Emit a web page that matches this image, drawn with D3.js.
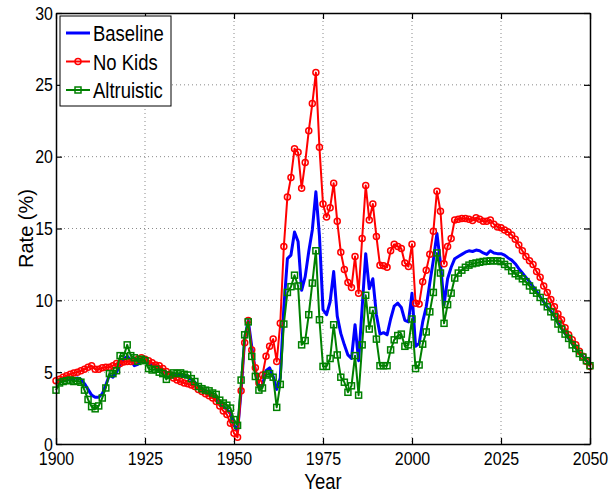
<!DOCTYPE html>
<html>
<head>
<meta charset="utf-8">
<script src="https://cdn.jsdelivr.net/npm/d3@7.9.0/dist/d3.min.js"></script>
<style>
  body { margin: 0; background: #fff; }
  svg { display: block; font-family: "Liberation Sans", Arial, sans-serif; }
</style>
</head>
<body>
<svg id="chart" width="609" height="494"></svg>
<script>
// yearly values, 1900..2050
const firstYear = 1900;
const lastYear = 2050;

const baseline = [
  4.2, 4.3, 4.4, 4.45, 4.5, 4.55, 4.6, 4.5, 4.2, 3.8,
  3.4, 3.25, 3.25, 3.5, 4.1, 4.8, 4.65, 5.0, 5.5, 5.9,
  6.1, 5.85, 5.45, 5.55, 5.8, 5.75, 5.6, 5.5, 5.35, 5.25,
  5.15, 5.0, 4.95, 4.9, 4.85, 4.8, 4.75, 4.65, 4.5, 4.3,
  4.05, 3.85, 3.7, 3.55, 3.4, 3.2, 2.9, 2.6, 2.4, 2.1,
  1.3, 0.9, 3.7, 7.35, 8.6, 6.75, 5.1, 4.0, 4.1, 5.1,
  5.3, 4.7, 3.8, 4.6, 9.5, 12.9, 13.15, 14.75, 14.1, 10.7,
  11.65, 13.4, 14.9, 17.55, 14.5, 9.35, 9.0, 9.9, 12.0, 8.9,
  7.7, 6.9, 6.2, 5.95, 8.3, 5.8, 9.5, 13.25, 10.8, 11.5,
  9.0, 7.65, 7.75, 7.6, 8.7, 9.6, 9.8, 9.5, 8.6, 8.5,
  10.5, 6.8, 7.0, 8.5, 9.55, 11.2, 12.8, 14.65, 12.6, 9.7,
  11.5, 12.3, 12.9, 13.05, 13.2, 13.35, 13.45, 13.4, 13.5, 13.45,
  13.3, 13.2, 13.45, 13.3, 13.25, 13.25, 13.15, 12.95, 12.8, 12.55,
  12.2, 11.9, 11.6, 11.3, 10.95, 10.6, 10.25, 9.9, 9.55, 9.25,
  8.9, 8.45, 8.05, 7.7, 7.35, 7.0, 6.7, 6.35, 6.1, 5.8,
  5.45
];

const noKids = [
  4.4, 4.5, 4.65, 4.75, 4.85, 4.95, 5.0, 5.1, 5.2, 5.35,
  5.45, 5.2, 5.2, 5.3, 5.35, 5.35, 5.45, 5.6, 5.6, 5.7,
  5.75, 5.75, 5.8, 5.9, 6.0, 5.9, 5.8, 5.65, 5.5, 5.45,
  5.25, 5.05, 4.8, 4.6, 4.45, 4.35, 4.25, 4.2, 4.1, 4.0,
  3.8, 3.65, 3.5, 3.35, 3.2, 2.95, 2.65, 2.3, 2.05, 1.45,
  0.75, 0.47, 3.7, 7.05, 8.6, 6.55, 5.3, 4.25, 4.8, 6.1,
  6.8, 7.3, 5.75, 8.4, 13.75, 17.2, 18.55, 20.55, 20.3, 17.8,
  19.6, 21.8, 23.7, 25.85, 20.65, 16.7, 15.8, 16.45, 18.15, 15.5,
  13.35, 12.15, 11.25, 10.9, 13.05, 10.5, 14.3, 18.0, 15.6, 16.7,
  14.45, 12.45, 12.4, 12.3, 13.45, 13.9, 13.75, 13.6, 12.6, 12.35,
  13.9, 9.8, 9.75, 11.3, 12.1, 13.2, 14.8, 17.6, 16.2, 12.55,
  13.75, 14.3, 15.6, 15.65, 15.7, 15.7, 15.65, 15.55, 15.75, 15.65,
  15.5, 15.5, 15.6, 15.3, 15.1, 15.05, 14.9, 14.75, 14.55, 14.25,
  13.85, 13.45, 13.05, 12.75, 12.5, 12.0, 11.6, 11.0, 10.55, 10.05,
  9.55, 9.05, 8.65, 8.1, 7.6, 7.25, 6.9, 6.45, 6.1, 5.75,
  5.4
];

const altruistic = [
  3.75, 4.25, 4.35, 4.4, 4.45, 4.35, 4.4, 4.3, 3.75, 3.1,
  2.6, 2.45, 2.65, 3.2, 3.9, 4.9, 4.9, 5.1, 6.15, 6.1,
  6.9, 6.15, 6.0, 5.75, 5.9, 5.8, 5.25, 5.15, 5.2, 5.0,
  4.9, 4.5, 4.8, 4.95, 4.9, 4.95, 4.85, 4.8, 4.55, 4.35,
  4.0, 3.85, 3.75, 3.7, 3.55, 3.45, 3.05, 2.85, 2.7, 2.5,
  1.7, 1.3, 4.45, 7.6, 8.5, 6.1, 4.7, 3.75, 3.9, 4.8,
  4.9, 4.65, 2.55, 4.15, 8.35, 10.55, 10.95, 11.75, 11.0, 6.9,
  7.2, 9.0, 11.2, 13.45, 8.65, 5.4, 5.4, 5.95, 8.3, 6.2,
  4.65, 4.3, 3.6, 4.05, 6.15, 3.4, 6.9, 10.35, 8.0, 9.3,
  7.3, 5.45, 5.45, 5.45, 6.55, 7.25, 7.55, 7.65, 6.8, 6.9,
  8.7, 5.25, 5.5, 6.95, 7.8, 9.2, 10.55, 13.3, 11.9, 8.4,
  9.7, 10.5, 11.55, 11.9, 12.1, 12.3, 12.45, 12.55, 12.6, 12.65,
  12.7, 12.72, 12.75, 12.75, 12.75, 12.7, 12.5, 12.35, 12.05, 11.85,
  11.7, 11.5, 11.3, 11.0, 10.7, 10.5, 10.2, 9.9, 9.55, 9.2,
  8.85, 8.35, 8.0, 7.65, 7.35, 6.9, 6.65, 6.3, 6.05, 5.8,
  5.45
];

const xTicks = [1900, 1925, 1950, 1975, 2000, 2025, 2050];
const yTicks = [0, 5, 10, 15, 20, 25, 30];
const seriesNames = ['Baseline', 'No Kids', 'Altruistic'];

const years = d3.range(firstYear, lastYear + 1);
const width = 609, height = 494;
const margin = { top: 13, right: 19, bottom: 50, left: 56 };
const squeeze = 0.84; // the reference text is a bit narrow

const svg = d3.select('#chart');

const x = d3.scaleLinear().domain([firstYear, lastYear]).range([margin.left, width - margin.right]);
const y = d3.scaleLinear().domain([0, 30]).range([height - margin.bottom, margin.top]);

// dotted grid
const grid = svg.append('g').attr('stroke', '#8a8a8a').attr('stroke-width', 1).attr('stroke-dasharray', '1,3');
grid.selectAll('.gx')
  .data(xTicks.slice(1, -1))
  .enter().append('line')
  .attr('x1', d => x(d)).attr('x2', d => x(d))
  .attr('y1', y(30)).attr('y2', y(0));
grid.selectAll('.gy')
  .data(yTicks.slice(1, -1))
  .enter().append('line')
  .attr('x1', x(firstYear)).attr('x2', x(lastYear))
  .attr('y1', d => y(d)).attr('y2', d => y(d));

// series
const series = [
  { name: seriesNames[0], values: baseline, color: '#0000ff', width: 3, marker: null },
  { name: seriesNames[1], values: noKids, color: '#ff0000', width: 2, marker: 'circle' },
  { name: seriesNames[2], values: altruistic, color: '#008000', width: 2, marker: 'square' }
];

const markR = 3;      // circle radius
const markS = 6;      // square side

const line = d3.line().x(d => x(d[0])).y(d => y(d[1]));

series.forEach(s => {
  const pts = years.map((yr, i) => [yr, s.values[i]]);
  const g = svg.append('g');
  g.append('path')
    .attr('d', line(pts))
    .attr('fill', 'none')
    .attr('stroke', s.color)
    .attr('stroke-width', s.width)
    .attr('stroke-linejoin', 'round');
  if (s.marker === 'circle') {
    g.selectAll('circle')
      .data(pts)
      .enter().append('circle')
      .attr('cx', d => x(d[0]))
      .attr('cy', d => y(d[1]))
      .attr('r', markR)
      .attr('fill', 'none')
      .attr('stroke', s.color)
      .attr('stroke-width', 1.5);
  } else if (s.marker === 'square') {
    g.selectAll('rect')
      .data(pts)
      .enter().append('rect')
      .attr('x', d => x(d[0]) - markS / 2)
      .attr('y', d => y(d[1]) - markS / 2)
      .attr('width', markS)
      .attr('height', markS)
      .attr('fill', 'none')
      .attr('stroke', s.color)
      .attr('stroke-width', 1.5);
  }
});

// axes, ticks inside like the original
const xAxis = svg.append('g')
  .attr('transform', `translate(0,${y(0)})`)
  .call(d3.axisBottom(x).tickValues(xTicks).tickFormat(d3.format('d')).tickSizeInner(-6).tickSizeOuter(0).tickPadding(8));
const yAxis = svg.append('g')
  .attr('transform', `translate(${x(firstYear)},0)`)
  .call(d3.axisLeft(y).tickValues(yTicks).tickSizeInner(-6).tickSizeOuter(0).tickPadding(9));
svg.append('g')
  .attr('transform', `translate(0,${y(30)})`)
  .call(d3.axisTop(x).tickValues(xTicks).tickFormat('').tickSizeInner(-6).tickSizeOuter(0));
svg.append('g')
  .attr('transform', `translate(${x(lastYear)},0)`)
  .call(d3.axisRight(y).tickValues(yTicks).tickFormat('').tickSizeInner(-6).tickSizeOuter(0));

svg.selectAll('.domain').attr('stroke', '#000').attr('stroke-width', 1.5);
svg.selectAll('.tick line').attr('stroke', '#000').attr('stroke-width', 1.2);

xAxis.selectAll('text')
  .attr('font-size', 19).attr('fill', '#000')
  .attr('transform', `scale(${squeeze},1)`);
yAxis.selectAll('text')
  .attr('font-size', 19).attr('fill', '#000')
  .attr('x', -3 / squeeze)
  .attr('transform', `scale(${squeeze},1)`);

// axis titles
svg.append('text')
  .attr('transform', `translate(${(x(firstYear) + x(lastYear)) / 2},489) scale(${squeeze},1)`)
  .attr('text-anchor', 'middle')
  .attr('font-size', 22)
  .text('Year');
svg.append('text')
  .attr('transform', `translate(33,${(y(0) + y(30)) / 2}) rotate(-90)`)
  .attr('text-anchor', 'middle')
  .attr('font-size', 20)
  .text('Rate (%)');

// legend
const legend = svg.append('g').attr('transform', 'translate(60,16)');
legend.append('rect')
  .attr('width', 111).attr('height', 90)
  .attr('fill', '#fff').attr('stroke', '#000').attr('stroke-width', 1);

series.forEach((s, i) => {
  const ly = 17 + i * 28.5;
  const row = legend.append('g').attr('transform', `translate(0,${ly})`);
  row.append('line')
    .attr('x1', 6).attr('x2', 30)
    .attr('stroke', s.color).attr('stroke-width', s.width);
  if (s.marker === 'circle') {
    row.append('circle').attr('cx', 18).attr('r', markR)
      .attr('fill', 'none').attr('stroke', s.color).attr('stroke-width', 1.5);
  } else if (s.marker === 'square') {
    row.append('rect').attr('x', 18 - markS / 2).attr('y', -markS / 2).attr('width', markS).attr('height', markS)
      .attr('fill', 'none').attr('stroke', s.color).attr('stroke-width', 1.5);
  }
  row.append('text')
    .attr('transform', `translate(33,8) scale(${squeeze},1)`)
    .attr('font-size', 22)
    .text(s.name);
});
</script>
</body>
</html>
